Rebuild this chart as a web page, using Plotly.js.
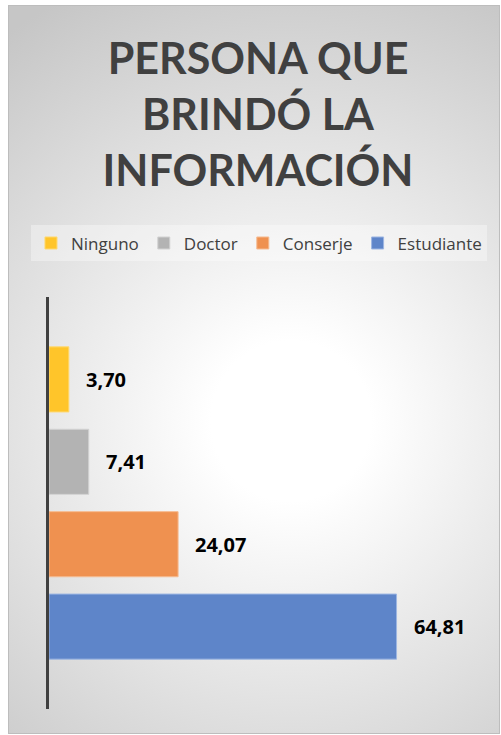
<!DOCTYPE html>
<html>
<head>
<meta charset="utf-8">
<script src="https://cdn.plot.ly/plotly-3.0.1.min.js"></script>
<style>
  html, body { margin: 0; padding: 0; width: 501px; height: 735px; overflow: hidden; background: #ffffff; }
  #frame {
    position: absolute; left: 8px; top: 5px; width: 490px; height: 727px;
    border: 1px solid #bdbdbd;
    background: radial-gradient(circle at 282px 415px, #ffffff 0px, #ffffff 80px, #c6c6c6 480px);
  }
  #chart { position: absolute; left: 0; top: 0; width: 501px; height: 735px; }
</style>
</head>
<body>
<div id="frame"></div>
<div id="chart"></div>
<script>
const categories = ['Ninguno', 'Doctor', 'Conserje', 'Estudiante'];
const values = [3.70, 7.41, 24.07, 64.81];
const colors = ['#FFC52A', '#B3B3B3', '#EF9150', '#5E85C9'];
const borderColors = ['#FFD970', '#D2D2D2', '#F6BB90', '#9DB6E2'];
const titleText = 'PERSONA QUE<br>BRINDÓ LA<br>INFORMACIÓN';

const traces = categories.map((c, i) => ({
  type: 'bar',
  orientation: 'h',
  name: c,
  x: [values[i]],
  y: [c],
  width: 0.79,
  marker: { color: colors[i], line: { color: borderColors[i], width: 1 } },
  hoverinfo: 'skip'
}));

const fmt = v => v.toFixed(2).replace('.', ',');
const annotations = categories.map((c, i) => ({
  x: values[i], y: c, xref: 'x', yref: 'y',
  text: fmt(values[i]),
  showarrow: false, xanchor: 'left', yanchor: 'middle', xshift: 15,
  font: { family: 'Open Sans, sans-serif', size: 20, color: '#000000', weight: 'bold' }
}));

const layout = {
  width: 501, height: 735,
  paper_bgcolor: 'rgba(0,0,0,0)',
  plot_bgcolor: 'rgba(0,0,0,0)',
  separators: ',.',
  margin: { l: 49, r: 23, t: 297, b: 26 },
  barmode: 'overlay',
  showlegend: true,
  title: {
    text: titleText,
    font: { family: 'Lato, sans-serif', size: 43, color: '#404040', weight: 'bold' },
    xref: 'container', x: 0.515, xanchor: 'center',
    yref: 'container', y: 1 - 74 / 735, yanchor: 'top'
  },
  legend: {
    orientation: 'h',
    xref: 'paper', x: -0.042, xanchor: 'left',
    yref: 'paper', y: 1.13, yanchor: 'middle',
    bgcolor: 'rgba(255,255,255,0.35)',
    font: { family: 'Open Sans, sans-serif', size: 17, color: '#404040' },
    traceorder: 'normal',
    itemclick: false, itemdoubleclick: false
  },
  xaxis: {
    range: [0, 80], visible: false, showgrid: false, zeroline: false, fixedrange: true
  },
  yaxis: {
    type: 'category', categoryorder: 'array', categoryarray: categories,
    range: [4, -1], showticklabels: false, ticks: '', showgrid: false, zeroline: false,
    showline: true, linecolor: '#404040', linewidth: 3, fixedrange: true
  },
  annotations: annotations
};

Plotly.newPlot('chart', traces, layout, { displayModeBar: false, staticPlot: true });
</script>
</body>
</html>
